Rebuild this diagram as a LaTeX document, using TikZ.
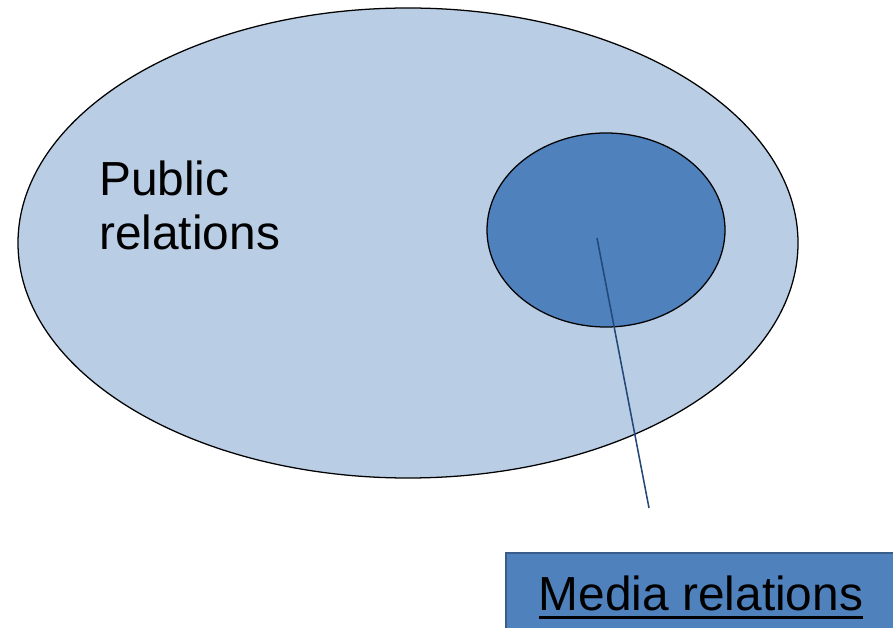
\documentclass[tikz,border=0pt]{standalone}
\usepackage{fontspec}
\setmainfont{Liberation Sans}
\usetikzlibrary{shapes.geometric}
\definecolor{paleblue}{HTML}{B9CDE5}
\definecolor{midblue}{HTML}{4F81BD}
\definecolor{edgeblue}{HTML}{385D8A}
\definecolor{leadblue}{HTML}{23487A}
\begin{document}
\begin{tikzpicture}[x=0.025cm,y=-0.025cm,
  region/.style={ellipse,draw=black,line width=0.9pt,inner sep=0pt},
  bigtext/.style={font=\fontsize{34}{38.3}\selectfont,inner sep=0pt}]
  \useasboundingbox (0,0) rectangle (893,628);
  \begin{scope}
    \clip (0,0) rectangle (893,628);
    % outer area
    \node[region,fill=paleblue,minimum width=780*0.025cm,minimum height=470*0.025cm] (pr) at (408,243) {};
    % inner area
    \node[region,fill=midblue,minimum width=238*0.025cm,minimum height=194*0.025cm] (mr) at (606,230) {};
    \node[bigtext,anchor=base west] (prtop) at (99,196) {Public};
    \node[bigtext,anchor=base west] (prbot) at (99,250) {relations};
    % caption box
    \draw[fill=midblue,draw=edgeblue,line width=0.9pt] (506,553) rectangle (905,640);
    \node[bigtext,anchor=base] (cap) at (701,610) {Media relations};
    % underline of the caption
    \draw[line width=2.1pt] ([yshift=-5.2pt]cap.base west) -- ([yshift=-5.2pt]cap.base east);
    % leader line
    \coordinate (tip) at (597,238);
    \coordinate (foot) at (649,508);
    \draw[leadblue,line width=1.1pt] (tip) -- (foot);
  \end{scope}
\end{tikzpicture}
\end{document}
